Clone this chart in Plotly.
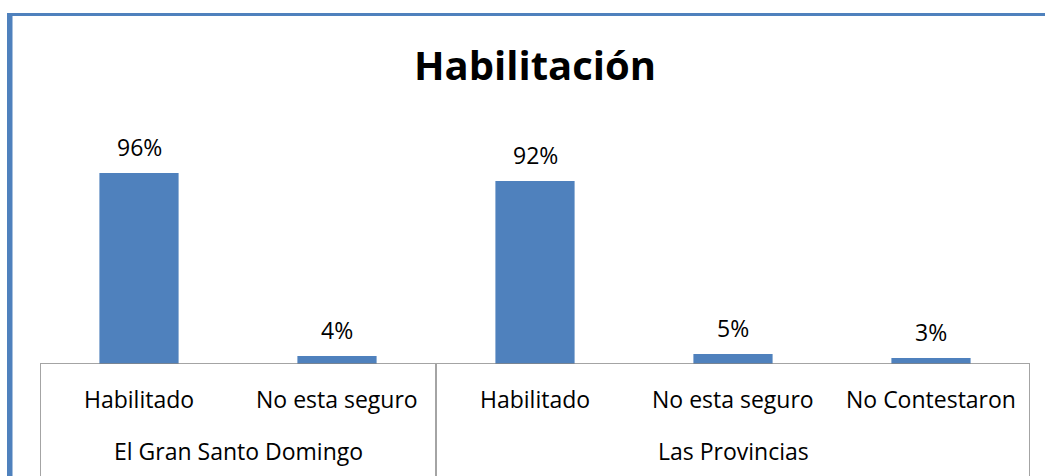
import plotly.graph_objects as go

# data
categories = ["Habilitado", "No esta seguro", "Habilitado", "No esta seguro", "No Contestaron"]
groups = ["El Gran Santo Domingo", "Las Provincias"]
group_spans = [(0, 1), (2, 4)]
values = [96, 4, 92, 5, 3]
value_labels = ["96%", "4%", "92%", "5%", "3%"]

BLUE = "#4F81BD"
AXIS = "#868686"
FONT = "Open Sans"

# pixel helpers (plot area: x 40..1030, y 165..364)
def px_x(p):
    return (p - 40) / 990

def px_y(p):
    return (364 - p) / 199

xs = list(range(len(categories)))

fig = go.Figure()
fig.add_trace(go.Bar(
    x=xs, y=values, width=0.4, marker=dict(color=BLUE, line=dict(width=0)),
    hoverinfo="skip", showlegend=False,
))

for x, v, t in zip(xs, values, value_labels):
    fig.add_annotation(x=x, y=v, text=t, showarrow=False, yanchor="middle",
                       yshift=26, font=dict(size=23, color="black", family=FONT))

for x, c in zip(xs, categories):
    fig.add_annotation(x=x, y=px_y(399), yref="paper", text=c, showarrow=False,
                       yanchor="middle", font=dict(size=23, color="black", family=FONT))

for g, (a, b) in zip(groups, group_spans):
    fig.add_annotation(x=(a + b) / 2, y=px_y(451), yref="paper", text=g, showarrow=False,
                       yanchor="middle", font=dict(size=23, color="black", family=FONT))

# axis line and group separators
fig.add_shape(type="line", xref="x", yref="y", x0=-0.5, x1=len(xs) - 0.5, y0=0, y1=0,
              line=dict(color=AXIS, width=1.5))
for sx in [-0.5, group_spans[0][1] + 0.5, len(xs) - 0.5]:
    fig.add_shape(type="line", xref="x", yref="paper", x0=sx, x1=sx, y0=0, y1=px_y(480),
                  line=dict(color=AXIS, width=1.5))

# blue chart border (left and top)
fig.add_shape(type="rect", xref="paper", yref="paper", x0=px_x(7), x1=px_x(12.5),
              y0=px_y(490), y1=px_y(13), fillcolor=BLUE, line=dict(width=0))
fig.add_shape(type="rect", xref="paper", yref="paper", x0=px_x(7), x1=px_x(1060),
              y0=px_y(16), y1=px_y(13), fillcolor=BLUE, line=dict(width=0))

fig.update_layout(
    width=1045, height=476,
    margin=dict(l=40, r=15, t=165, b=112),
    paper_bgcolor="white", plot_bgcolor="white",
    title=dict(text="<b>Habilitación</b>", x=px_x(535), xref="paper", xanchor="center",
               y=1 - 66 / 476, yanchor="middle",
               font=dict(size=40, color="black", family=FONT)),
    xaxis=dict(range=[-0.5, len(xs) - 0.5], showticklabels=False, showgrid=False,
               zeroline=False, showline=False, fixedrange=True),
    yaxis=dict(range=[0, 100], showticklabels=False, showgrid=False,
               zeroline=False, showline=False, fixedrange=True),
    bargap=0.6,
)
fig.update_traces(cliponaxis=False)

fig.write_html("out.html", config={"displayModeBar": False},
               post_script="document.body.style.margin='0';document.body.style.overflow='hidden';")
